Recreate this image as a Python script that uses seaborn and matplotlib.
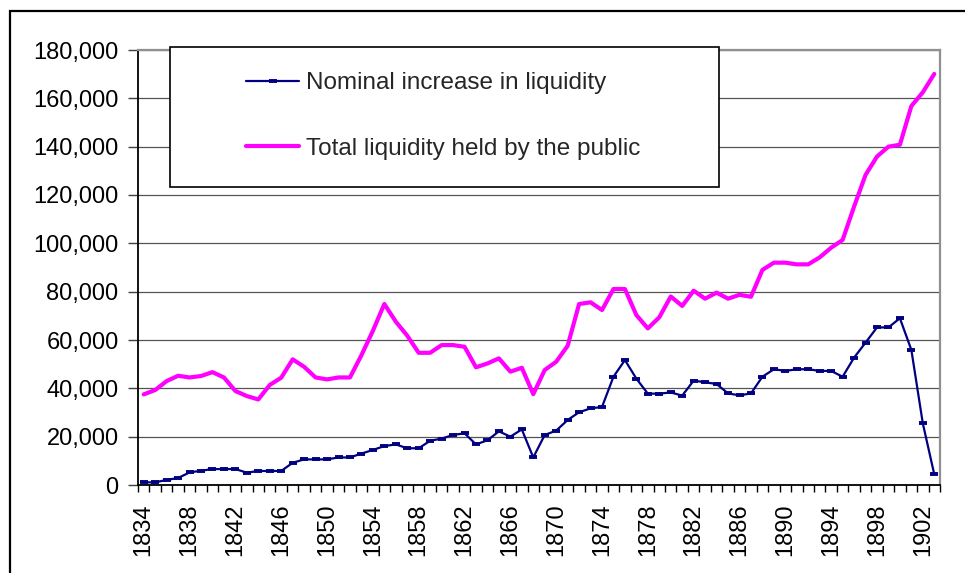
import matplotlib
matplotlib.use("Agg")
import matplotlib.pyplot as plt
import matplotlib.ticker as mticker
from matplotlib.patches import Rectangle
import seaborn as sns
import pandas as pd

years = list(range(1834, 1904))
nominal_increase = [
    1100, 1100, 2100, 2900, 5200, 5900, 6600, 6600, 6600, 5100,
    5800, 5800, 5800, 9200, 10600, 10600, 10600, 11400, 11400, 13000,
    14500, 16100, 16800, 15200, 15200, 18300, 19200, 20700, 21400, 16800,
    18500, 22200, 20000, 23000, 11400, 20700, 22500, 26900, 30100, 31700,
    32300, 44800, 51700, 44000, 37800, 37800, 38300, 37000, 43200, 42500,
    41800, 37900, 37100, 37900, 44800, 47900, 47200, 47900, 47900, 47200,
    47200, 44800, 52700, 58900, 65200, 65200, 69000, 55900, 25500, 4400,
]
total_liquidity = [
    37500, 39300, 43000, 45200, 44500, 45100, 46700, 44500, 38900, 36800,
    35400, 41400, 44400, 52000, 48900, 44500, 43700, 44500, 44500, 53700,
    63800, 74900, 67600, 61800, 54700, 54700, 57900, 57900, 57200, 48700,
    50300, 52400, 46900, 48500, 37600, 47600, 51000, 57600, 74900, 75600,
    72400, 81100, 81100, 70300, 64800, 69400, 78000, 74100, 80400, 77100,
    79600, 77100, 78700, 77900, 89000, 92000, 92000, 91300, 91300, 94200,
    98200, 101400, 115200, 128300, 135900, 140000, 140800, 156800, 162500, 170100,
]
label_nominal = "Nominal increase in liquidity"
label_total = "Total liquidity held by the public"
year_ticks = list(range(1834, 1903, 4))
y_ticks = [0, 20000, 40000, 60000, 80000, 100000, 120000, 140000, 160000, 180000]

df = pd.DataFrame({"year": years, "nominal": nominal_increase, "total": total_liquidity})

sns.set_style("white")
plt.rcParams["font.family"] = ["Liberation Sans", "DejaVu Sans"]

W, H = 965, 573
fig = plt.figure(figsize=(W / 100, H / 100), dpi=100)
ax = fig.add_axes([138 / W, 1 - 485 / H, (940 - 138) / W, (485 - 50) / H])

sns.lineplot(data=df, x="year", y="nominal", ax=ax, color="#000080", lw=1.6,
             marker="_", markersize=6, markeredgewidth=2.8, markeredgecolor="#000080",
             label=label_nominal, zorder=5)
sns.lineplot(data=df, x="year", y="total", ax=ax, color="#FF00FF", lw=3.0,
             label=label_total, zorder=4)

ax.set_xlim(years[0] - 0.5, years[-1] + 0.5)
ax.set_ylim(y_ticks[0], y_ticks[-1])
ax.set_yticks(y_ticks)
ax.yaxis.set_major_formatter(mticker.FuncFormatter(lambda v, p: f"{v:,.0f}"))
ax.set_xticks(year_ticks)
ax.set_xticklabels([str(y) for y in year_ticks], rotation=90)
ax.set_xticks([y - 0.5 for y in years] + [years[-1] + 0.5], minor=True)
ax.tick_params(axis="x", which="major", length=0, pad=13, labelsize=17, colors="black")
ax.tick_params(axis="x", which="minor", length=5, width=1.0, color="black", direction="out", bottom=True)
ax.tick_params(axis="y", which="major", length=7, width=1.0, color="#404040", pad=7,
               labelsize=17, labelcolor="black", left=True)
ax.set_xlabel("")
ax.set_ylabel("")

ax.grid(axis="y", color="#555555", lw=0.9)
ax.grid(axis="x", visible=False)
ax.set_axisbelow(True)

for side in ("left", "bottom"):
    ax.spines[side].set_color("black")
    ax.spines[side].set_linewidth(1.3)
for side in ("top", "right"):
    ax.spines[side].set_color("#909090")
    ax.spines[side].set_linewidth(1.6)
ax.spines["top"].set_visible(True)
ax.spines["right"].set_visible(True)

# legend box
box = Rectangle((170 / W, 1 - 187 / H), (719 - 170) / W, (187 - 47) / H,
                transform=fig.transFigure, facecolor="white", edgecolor="black",
                lw=1.2, clip_on=False, zorder=6)
ax.add_patch(box)
ax.get_legend().remove()
leg = ax.legend(loc="center left", bbox_to_anchor=(246 / W, 1 - 116 / H),
                bbox_transform=fig.transFigure, frameon=False, fontsize=17.5,
                borderpad=0, borderaxespad=0, handlelength=2.2, handletextpad=0.25,
                labelspacing=1.8)
leg.set_zorder(7)

# outer border (extends past the right and bottom edges)
fig.patches.append(Rectangle((9.5 / W, -0.1), 1.2, 1 - 10.7 / H + 0.1,
                             transform=fig.transFigure, fill=False,
                             edgecolor="black", lw=1.6, figure=fig))

fig.savefig("out.png", dpi=100, facecolor="white")
